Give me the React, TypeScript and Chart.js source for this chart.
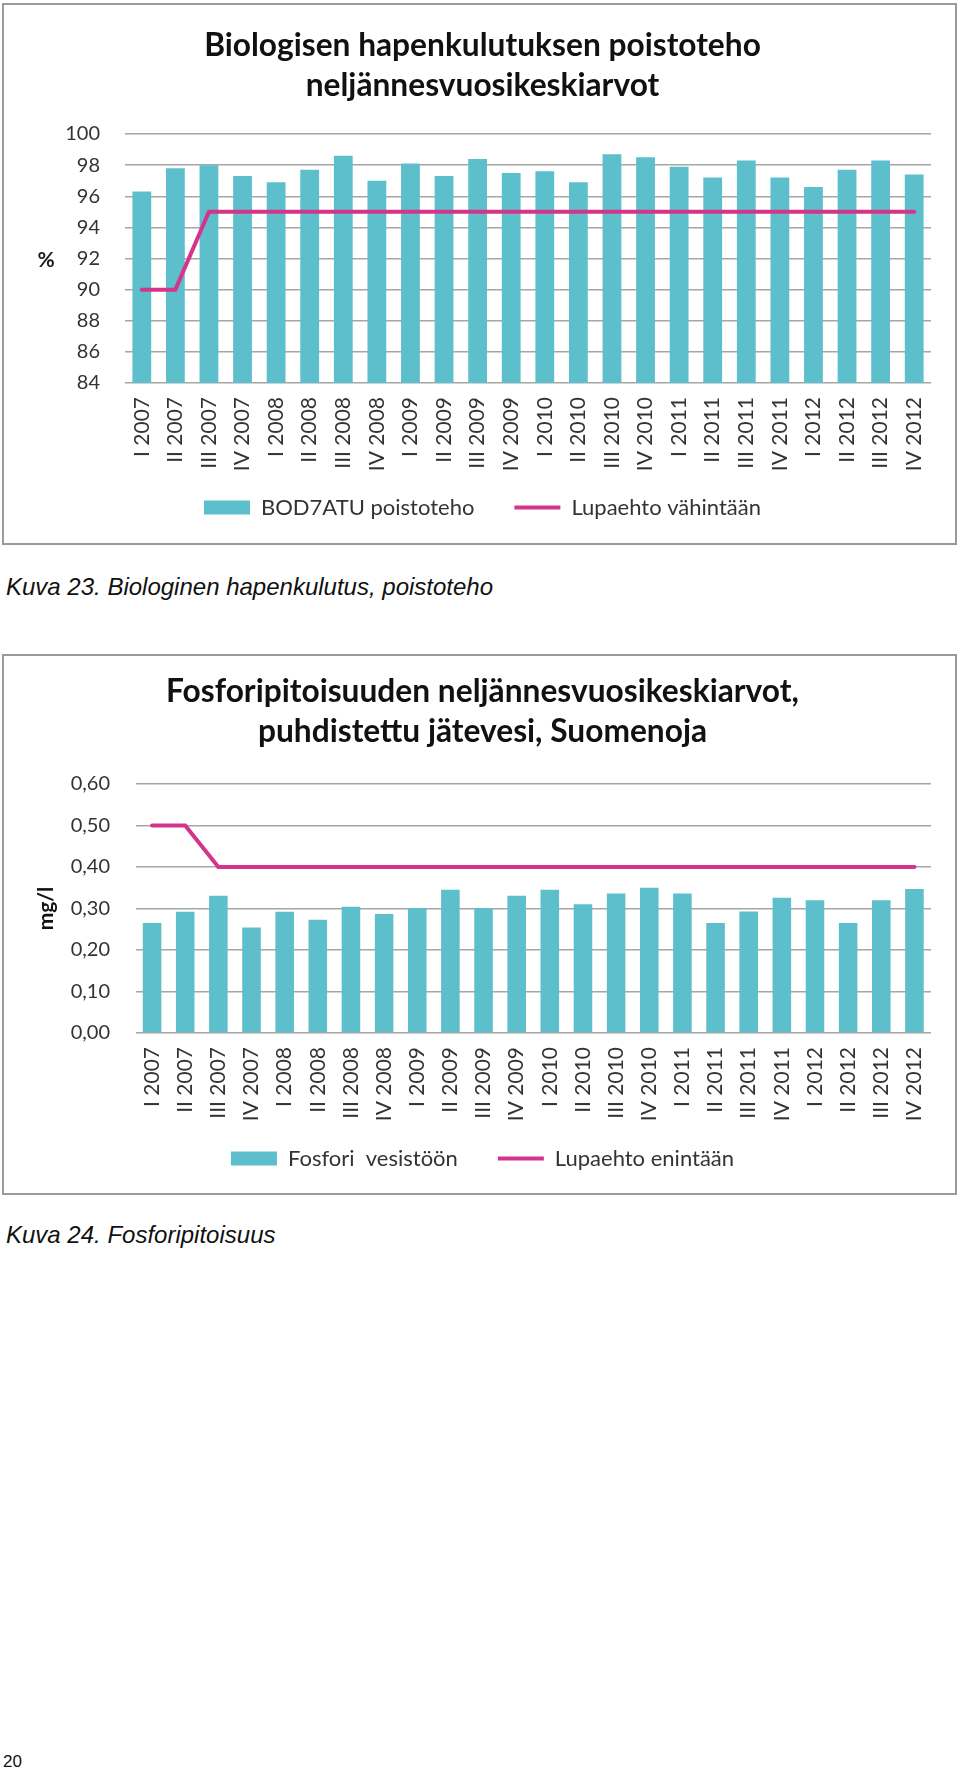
import React, { useEffect, useRef } from 'react';
import { Chart, registerables } from 'chart.js';

Chart.register(...registerables);

// ---------- data ----------
const quarters = [
  'I 2007', 'II 2007', 'III 2007', 'IV 2007',
  'I 2008', 'II 2008', 'III 2008', 'IV 2008',
  'I 2009', 'II 2009', 'III 2009', 'IV 2009',
  'I 2010', 'II 2010', 'III 2010', 'IV 2010',
  'I 2011', 'II 2011', 'III 2011', 'IV 2011',
  'I 2012', 'II 2012', 'III 2012', 'IV 2012',
];

const bodValues = [
  96.3, 97.8, 98.0, 97.3, 96.9, 97.7, 98.6, 97.0, 98.1, 97.3, 98.4, 97.5,
  97.6, 96.9, 98.7, 98.5, 97.9, 97.2, 98.3, 97.2, 96.6, 97.7, 98.3, 97.4,
];
const bodLimit = [
  90, 90, 95, 95, 95, 95, 95, 95, 95, 95, 95, 95,
  95, 95, 95, 95, 95, 95, 95, 95, 95, 95, 95, 95,
];

const phosValues = [
  0.265, 0.292, 0.331, 0.254, 0.292, 0.273, 0.304, 0.287, 0.301, 0.345, 0.301, 0.331,
  0.345, 0.310, 0.336, 0.350, 0.336, 0.265, 0.293, 0.326, 0.320, 0.265, 0.320, 0.347,
];
const phosLimit = [
  0.5, 0.5, 0.4, 0.4, 0.4, 0.4, 0.4, 0.4, 0.4, 0.4, 0.4, 0.4,
  0.4, 0.4, 0.4, 0.4, 0.4, 0.4, 0.4, 0.4, 0.4, 0.4, 0.4, 0.4,
];

const bodAxis = { min: 84, max: 100, step: 2 };
const phosAxis = { min: 0, max: 0.6, step: 0.1 };

const bodTitle = ['Biologisen hapenkulutuksen poistoteho', 'neljännesvuosikeskiarvot'];
const phosTitle = ['Fosforipitoisuuden neljännesvuosikeskiarvot,', 'puhdistettu jätevesi, Suomenoja'];
const bodLegend = ['BOD7ATU poistoteho', 'Lupaehto vähintään'];
const phosLegend = ['Fosfori  vesistöön', 'Lupaehto enintään'];

// ---------- styles ----------
const BAR = '#5CBFCB';
const LINE = '#D4358B';
const GRID = '#a6a6a6';
const TEXT = '#333333';
const FONT = 'Lato';
const PAD_LEFT = 30;

type Opts = {
  labels: string[];
  bars: number[];
  limit: number[];
  legend: string[];
  title: string[];
  axis: { min: number; max: number; step: number };
  yWidth: number;
  tickPad: number;
  titlePad: { top: number; bottom: number };
  xHeight: number;
  padBottom: number;
  fmt: (v: number) => string;
  yTitle?: string;
  percent?: boolean;
};

const percentPlugin = {
  id: 'percentLabel',
  afterDraw(chart: any) {
    if (!chart.options.plugins.percentLabel?.show) return;
    const { ctx, chartArea } = chart;
    ctx.save();
    ctx.font = `bold 21px ${FONT}`;
    ctx.fillStyle = '#1a1a1a';
    ctx.textAlign = 'center';
    ctx.textBaseline = 'middle';
    ctx.fillText('%', chartArea.left - 79, (chartArea.top + chartArea.bottom) / 2 + 2);
    ctx.restore();
  },
};

function makeConfig(o: Opts): any {
  return {
    type: 'bar',
    data: {
      labels: o.labels,
      datasets: [
        {
          type: 'bar',
          label: o.legend[0],
          data: o.bars,
          backgroundColor: BAR,
          borderWidth: 0,
          barPercentage: 0.7,
          categoryPercentage: 0.8,
          pointStyle: 'rect',
          order: 1,
        },
        {
          type: 'line',
          label: o.legend[1],
          data: o.limit,
          borderColor: LINE,
          backgroundColor: LINE,
          borderWidth: 4,
          pointRadius: 0,
          tension: 0,
          fill: false,
          pointStyle: 'line',
          borderCapStyle: 'round',
          order: 0,
        },
      ],
    },
    options: {
      responsive: false,
      animation: false,
      devicePixelRatio: 1,
      layout: { padding: { left: PAD_LEFT, right: 24, top: 0, bottom: o.padBottom } },
      plugins: {
        tooltip: { enabled: false },
        percentLabel: { show: !!o.percent },
        title: {
          display: true,
          text: o.title,
          color: '#111',
          font: { family: FONT, size: 31.7, weight: 'bold', lineHeight: 40 / 31.7 },
          padding: o.titlePad,
        },
        legend: {
          display: true,
          position: 'bottom',
          labels: {
            usePointStyle: true,
            pointStyleWidth: 46,
            boxHeight: 14,
            padding: 40,
            color: TEXT,
            font: { family: FONT, size: 22 },
            sort: (a: any, b: any) => a.datasetIndex - b.datasetIndex,
          },
        },
      },
      scales: {
        x: {
          offset: true,
          grid: { display: false, drawTicks: false },
          border: { display: false },
          ticks: {
            autoSkip: false,
            minRotation: 90,
            maxRotation: 90,
            padding: 14,
            color: TEXT,
            font: { family: FONT, size: 21 },
          },
          afterFit(scale: any) {
            scale.height = o.xHeight;
            // let the rotated labels overflow the (shorter) axis box
            scale._computeLabelArea = () => undefined;
          },
        },
        y: {
          min: o.axis.min,
          max: o.axis.max,
          grid: { color: GRID, lineWidth: 1.5, drawTicks: false },
          border: { display: false },
          title: o.yTitle
            ? {
                display: true,
                text: o.yTitle,
                color: '#111',
                font: { family: FONT, size: 21, weight: 'bold', lineHeight: 1.2 },
                padding: { top: 0, bottom: 0 },
              }
            : { display: false },
          ticks: {
            stepSize: o.axis.step,
            padding: o.tickPad,
            color: TEXT,
            font: { family: FONT, size: 20 },
            callback: (v: any) => o.fmt(Number(v)),
          },
          afterFit(scale: any) {
            scale.width = o.yWidth - PAD_LEFT;
          },
        },
      },
    },
    plugins: [percentPlugin],
  };
}

function ChartFrame({ top, height, opts }: { top: number; height: number; opts: Opts }) {
  const ref = useRef<HTMLCanvasElement | null>(null);
  useEffect(() => {
    if (!ref.current) return;
    const chart = new Chart(ref.current, makeConfig(opts));
    return () => chart.destroy();
  }, []);
  const innerW = 951;
  const innerH = height - 4;
  return (
    <div
      style={{
        position: 'absolute',
        left: 2,
        top,
        width: 955,
        height,
        boxSizing: 'border-box',
        border: '2px solid #9a9a9a',
        background: '#fff',
      }}
    >
      <canvas ref={ref} width={innerW} height={innerH} style={{ display: 'block', width: innerW, height: innerH }} />
    </div>
  );
}

const captionStyle: React.CSSProperties = {
  position: 'absolute',
  left: 6,
  fontFamily: '"Liberation Sans", Arial, sans-serif',
  fontStyle: 'italic',
  fontSize: 24,
  lineHeight: '24px',
  color: '#111',
  whiteSpace: 'nowrap',
  margin: 0,
};

export default function App() {
  const bodOpts: Opts = {
    labels: quarters,
    bars: bodValues,
    limit: bodLimit,
    legend: bodLegend,
    title: bodTitle,
    axis: bodAxis,
    yWidth: 121,
    tickPad: 25,
    titlePad: { top: 21, bottom: 28 },
    xHeight: 73.5,
    padBottom: 14.5,
    fmt: (v) => String(Math.round(v)),
    percent: true,
  };
  const phosOpts: Opts = {
    labels: quarters,
    bars: phosValues,
    limit: phosLimit,
    legend: phosLegend,
    title: phosTitle,
    axis: phosAxis,
    yWidth: 131.5,
    tickPad: 25.5,
    titlePad: { top: 16, bottom: 32 },
    xHeight: 74.5,
    padBottom: 13.5,
    fmt: (v) => v.toFixed(2).replace('.', ','),
    yTitle: 'mg/l',
  };
  return (
    <div style={{ position: 'absolute', left: 0, top: 0, width: 960, height: 1772, background: '#fff' }}>
      <ChartFrame top={3} height={542} opts={bodOpts} />
      <div style={{ ...captionStyle, top: 575 }}>Kuva 23. Biologinen hapenkulutus, poistoteho</div>
      <ChartFrame top={654} height={541} opts={phosOpts} />
      <div style={{ ...captionStyle, top: 1223 }}>Kuva 24. Fosforipitoisuus</div>
      <div
        style={{
          position: 'absolute',
          left: 3,
          top: 1753,
          fontFamily: '"Liberation Sans", Arial, sans-serif',
          fontSize: 17,
          lineHeight: '17px',
          color: '#111',
        }}
      >
        20
      </div>
    </div>
  );
}
